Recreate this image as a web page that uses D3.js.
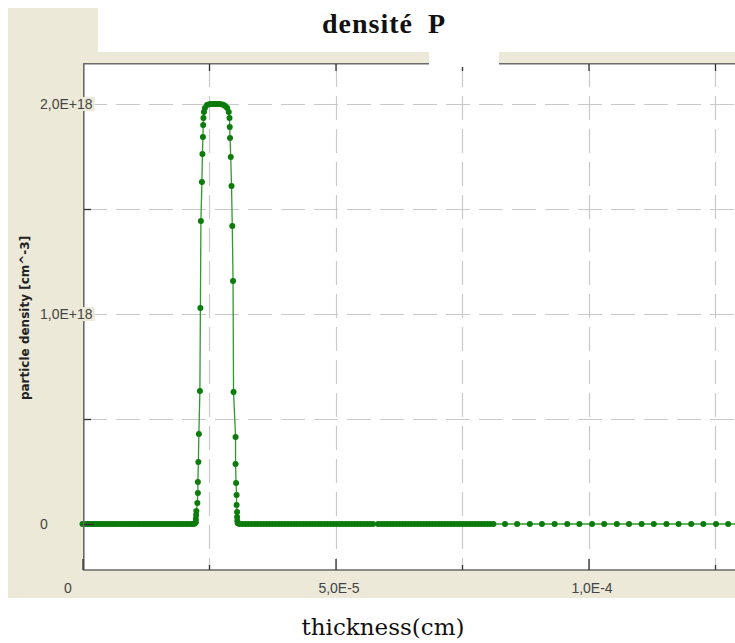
<!DOCTYPE html>
<html><head><meta charset="utf-8">
<script src="https://cdn.jsdelivr.net/npm/d3@7"></script>
<style>body{margin:0;background:#fff}svg{display:block}</style>
</head><body><svg id="c" width="735" height="643"></svg>
<script>
// thickness in units of 1e-6 cm ; density in units of 1e18 cm^-3
const flatLeftX = [0,0.5,1,1.5,2,2.5,3,3.5,4,4.5,5,5.5,6,6.5,7,7.5,8,8.5,9,9.5,10,10.5,11,11.5,12,12.5,13,13.5,14,14.5,15,15.5,16,16.5,17,17.5,18,18.5,19,19.5,20,20.5,21,21.5];
const peakX = [21.9,22.2,22.4,22.4,22.45,22.5,22.7,22.8,22.8,22.9,23.0,23.2,23.3,23.4,23.6,23.7,23.8,23.85,23.9,24.0,24.2,24.6,25.0,25.4,25.8,26.2,26.6,27.0,27.4,27.8,28.2,28.6,28.9,29.05,29.1,29.15,29.3,29.45,29.6,29.75,29.85,30.25,30.25,30.35,30.45,30.45,30.55,30.55,30.6,30.7];
const peakY = [0,0.002,0.008,0.024,0.043,0.062,0.10,0.148,0.20,0.295,0.429,0.633,1.029,1.443,1.629,1.762,1.843,1.90,1.933,1.962,1.981,1.995,1.999,2.0,2.0,2.0,2.0,2.0,1.999,1.997,1.99,1.981,1.962,1.933,1.89,1.838,1.748,1.61,1.419,1.157,0.629,0.414,0.286,0.195,0.138,0.09,0.057,0.033,0.014,0.003];
const flatRightX = [31.0,31.6,32.2,32.8,33.4,34.0,34.6,35.2,35.8,36.4,37.0,37.6,38.2,38.8,39.4,40.0,40.6,41.2,41.8,42.4,43.0,43.6,44.2,44.8,45.4,46.0,46.6,47.2,47.8,48.4,49.0,49.6,50.2,50.8,51.4,52.0,52.6,53.2,53.8,54.4,55.0,55.6,56.2,56.8,57.4,58.4,59.0,59.6,60.2,60.8,61.4,62.0,62.6,63.2,63.8,64.4,65.0,65.6,66.2,66.8,67.4,68.0,68.6,69.2,69.8,70.4,71.0,71.6,72.2,72.8,73.4,74.0,74.6,75.2,75.8,76.4,77.0,77.6,78.2,78.8,79.4,80.0,80.6,81.2];
const tailX = [83.5,85.9,88.4,90.8,93.3,95.8,98.2,100.7,103.1,105.6,108.0,110.5,112.9,115.4,117.8,120.3,122.7,125.2,127.6,130.1];

const xTickValues = [0, 50, 100];
const xTickLabels = ["0", "5,0E-5", "1,0E-4"];
const xMinorTicks = [25, 75, 125];
const yTickValues = [0, 1, 2];
const yTickLabels = ["0", "1,0E+18", "2,0E+18"];
const yMinorTicks = [0.5, 1.5];
const xGridValues = [25, 50, 75, 100, 125];
const yGridValues = [0.5, 1, 1.5, 2];

const titleText = "densité";
const titleLetter = "P";
const yTitle = "particle density [cm^-3]";
const xTitle = "thickness(cm)";

// build the series
const data = [];
flatLeftX.forEach(v => data.push([v, 0]));
peakX.forEach((v, i) => data.push([v, peakY[i]]));
flatRightX.forEach(v => data.push([v, 0]));
tailX.forEach(v => data.push([v, 0]));

const svg = d3.select("#c");
const BEIGE = "#ece9d8";
const P = {left: 83, top: 63, right: 760, bottom: 570};

const x = d3.scaleLinear().domain([0, 50]).range([82.5, 335.5]);
const y = d3.scaleLinear().domain([0, 2]).range([524, 104]);

svg.append("rect").attr("width", 735).attr("height", 643).attr("fill", "#fff");
svg.append("rect").attr("x", 8).attr("y", 8).attr("width", 727).attr("height", 590).attr("fill", BEIGE);
svg.append("rect").attr("x", 98).attr("y", 0).attr("width", 637).attr("height", 52).attr("fill", "#fff");
svg.append("rect").attr("x", P.left).attr("y", P.top).attr("width", P.right - P.left).attr("height", P.bottom - P.top).attr("fill", "#fff");

// grid
const grid = svg.append("g").attr("stroke", "#c9c9c9").attr("stroke-width", 1.2).attr("stroke-dasharray", "24,9");
grid.selectAll(".gx").data(xGridValues).join("line")
  .attr("x1", d => Math.round(x(d)) + 0.5).attr("x2", d => Math.round(x(d)) + 0.5)
  .attr("y1", P.top).attr("y2", P.bottom);
grid.selectAll(".gy").data(yGridValues).join("line")
  .attr("y1", d => Math.round(y(d)) + 0.5).attr("y2", d => Math.round(y(d)) + 0.5)
  .attr("x1", P.left).attr("x2", P.right);

// data
svg.append("defs").append("clipPath").attr("id", "clip")
  .append("rect").attr("x", P.left - 4).attr("y", P.top).attr("width", P.right - P.left + 4).attr("height", P.bottom - P.top);
const dg = svg.append("g").attr("clip-path", "url(#clip)");
dg.append("path").datum(data)
  .attr("fill", "none").attr("stroke", "#2e9a2e").attr("stroke-width", 1.3)
  .attr("d", d3.line().x(d => x(d[0])).y(d => y(d[1])));
dg.selectAll("circle").data(data).join("circle")
  .attr("cx", d => x(d[0])).attr("cy", d => y(d[1])).attr("r", 3)
  .attr("fill", "#0b7b0b");

// frame
const frame = svg.append("g").attr("stroke", "#6a6a6a").attr("stroke-width", 1.6).attr("fill", "none");
frame.append("line").attr("x1", P.left).attr("x2", 735).attr("y1", 63.8).attr("y2", 63.8);
frame.append("line").attr("x1", 83.8).attr("x2", 83.8).attr("y1", P.top).attr("y2", P.bottom);
frame.append("line").attr("x1", P.left).attr("x2", 735).attr("y1", 570).attr("y2", 570);

// axes (ticks inward)
const tickFont = "'Liberation Sans', Arial, sans-serif";
const gx = svg.append("g").attr("transform", "translate(0,570)")
  .call(d3.axisBottom(x).tickValues(xTickValues).tickSize(-11).tickPadding(13)
    .tickFormat((d, i) => xTickLabels[i]));
gx.select(".domain").remove();
gx.selectAll(".tick line").attr("stroke", "#333").attr("stroke-width", 1.3);
gx.selectAll(".tick text").attr("font-family", tickFont).attr("font-size", 14).attr("fill", "#444")
  .attr("dx", (d, i) => i === 0 ? -15 : 3);
const gxm = svg.append("g").attr("transform", "translate(0,570)")
  .call(d3.axisBottom(x).tickValues(xMinorTicks).tickSize(-5).tickFormat(""));
gxm.select(".domain").remove();
gxm.selectAll(".tick line").attr("stroke", "#333").attr("stroke-width", 1.3);

const gt = svg.append("g").attr("transform", "translate(0,64)")
  .call(d3.axisTop(x).tickValues(xGridValues).tickSize(-7).tickFormat(""));
gt.select(".domain").remove();
gt.selectAll(".tick line").attr("stroke", "#333").attr("stroke-width", 1.3);

const gy = svg.append("g").attr("transform", "translate(84,0)")
  .call(d3.axisLeft(y).tickValues(yMinorTicks).tickSize(-7).tickFormat(""));
gy.select(".domain").remove();
gy.selectAll(".tick line").attr("stroke", "#333").attr("stroke-width", 1.3);
const gyM = svg.append("g").attr("transform", "translate(84,0)")
  .call(d3.axisLeft(y).tickValues(yTickValues).tickSize(-10).tickFormat(""));
gyM.select(".domain").remove();
gyM.selectAll(".tick line").attr("stroke", "#333").attr("stroke-width", 1.3);

// gap in title region
svg.append("rect").attr("x", 429).attr("y", 50).attr("width", 70).attr("height", 17).attr("fill", "#fff");

// y labels with beige backgrounds
const yl = svg.append("g");
yTickValues.forEach((v, i) => {
  const g = yl.append("g");
  const bg = g.append("rect").attr("fill", BEIGE);
  const t = g.append("text").attr("x", 40).attr("y", y(v) + 5)
    .attr("font-family", tickFont).attr("font-size", 14).attr("fill", "#444")
    .text(yTickLabels[i]);
  const b = t.node().getBBox();
  bg.attr("x", b.x - 1).attr("y", b.y + 1).attr("width", b.width + 3).attr("height", b.height - 2);
});

// titles
const title = svg.append("text").attr("x", 322).attr("y", 33)
  .attr("font-family", "'Liberation Serif', 'Times New Roman', serif").attr("font-weight", "bold")
  .attr("font-size", 28).attr("fill", "#111");
title.append("tspan").text(titleText).attr("textLength", 90);
title.append("tspan").attr("x", 428).text(titleLetter);

svg.append("text")
  .attr("transform", "translate(29,318) rotate(-90)")
  .attr("text-anchor", "middle")
  .attr("font-family", "'DejaVu Sans', Verdana, sans-serif").attr("font-weight", "bold")
  .attr("font-size", 12).attr("fill", "#222")
  .text(yTitle);

svg.append("text").attr("x", 383).attr("y", 635).attr("text-anchor", "middle")
  .attr("font-family", "'DejaVu Serif', serif").attr("font-size", 23).attr("fill", "#111")
  .text(xTitle);
</script></body></html>
